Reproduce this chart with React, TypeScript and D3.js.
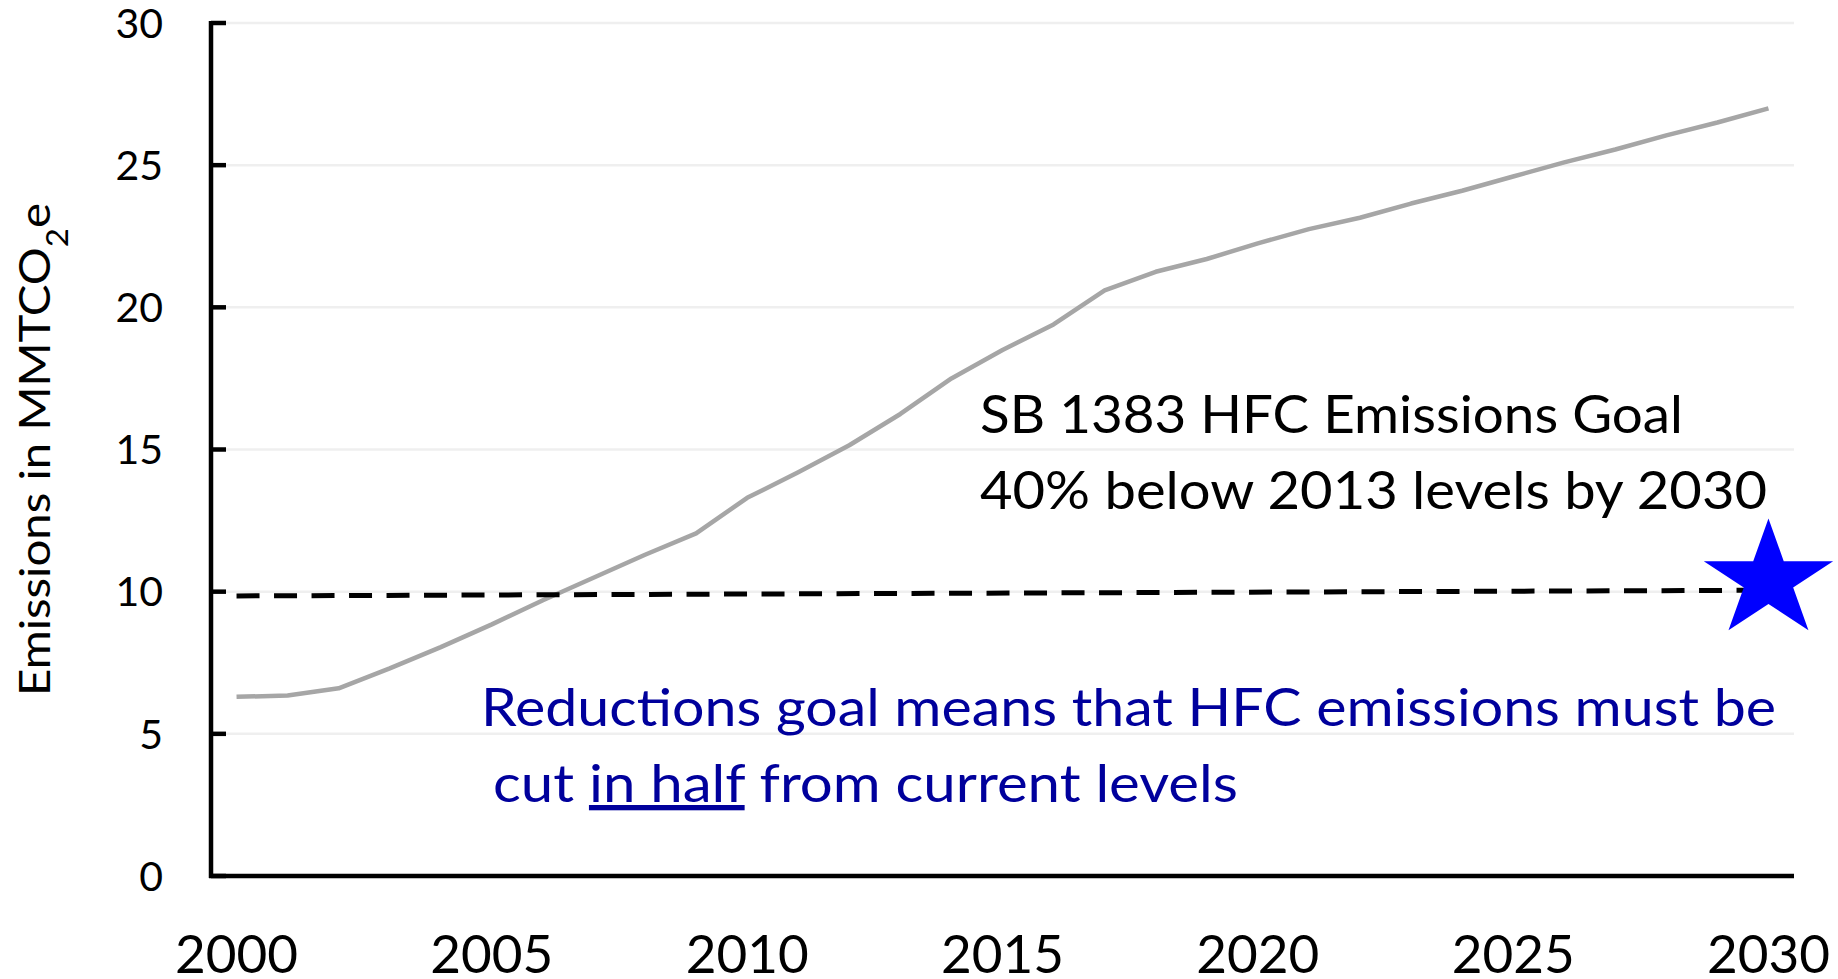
import React from "react";
import * as d3 from "d3";

const years = [
  2000, 2001, 2002, 2003, 2004, 2005, 2006, 2007, 2008, 2009, 2010,
  2011, 2012, 2013, 2014, 2015, 2016, 2017, 2018, 2019, 2020,
  2021, 2022, 2023, 2024, 2025, 2026, 2027, 2028, 2029, 2030,
];
const emissions = [
  6.3, 6.35, 6.6, 7.3, 8.05, 8.85, 9.7, 10.5, 11.3, 12.05, 13.3,
  14.2, 15.15, 16.25, 17.5, 18.5, 19.4, 20.6, 21.25, 21.7, 22.25,
  22.75, 23.15, 23.65, 24.1, 24.6, 25.1, 25.55, 26.05, 26.5, 27.0,
];
const goalYears = [2000, 2030];
const goalValues = [9.85, 10.05];
const starYear = 2030;
const starValue = 10.4;
const yTicks = [0, 5, 10, 15, 20, 25, 30];
const xTickLabels = [2000, 2005, 2010, 2015, 2020, 2025, 2030];

const W = 1838;
const H = 979;
const FONT = "Lato, 'Open Sans', sans-serif";

export default function App() {
  const left = 211;
  const right = 1794;
  const top = 23;
  const bottom = 876;

  const x = d3
    .scalePoint<number>()
    .domain(years)
    .range([left, right])
    .padding(0.5);
  const y = d3.scaleLinear().domain([0, 30]).range([bottom, top]);

  const line = d3
    .line<number>()
    .x((_, i) => x(years[i]) as number)
    .y((d) => y(d));
  const goalLine = d3
    .line<number>()
    .x((_, i) => x(goalYears[i]) as number)
    .y((d) => y(d));

  const starPath = d3.symbol(d3.symbolStar, 5191)() as string;

  return (
    <svg
      width={W}
      height={H}
      style={{ position: "absolute", left: 0, top: 0, background: "#fff" }}
      fontFamily={FONT}
    >
      <rect x={0} y={0} width={W} height={H} fill="#fff" />
      {/* gridlines */}
      {yTicks
        .filter((t) => t > 0)
        .map((t) => (
          <line
            key={"g" + t}
            x1={left}
            x2={right}
            y1={y(t)}
            y2={y(t)}
            stroke="#efefef"
            strokeWidth={2.5}
          />
        ))}
      {/* emissions line */}
      <path
        d={line(emissions) as string}
        fill="none"
        stroke="#a6a6a6"
        strokeWidth={4.5}
        strokeLinejoin="round"
      />
      {/* goal dashed line */}
      <path
        d={goalLine(goalValues) as string}
        fill="none"
        stroke="#000"
        strokeWidth={5}
        strokeDasharray="23 14.5"
      />
      {/* axes */}
      <line x1={left} x2={left} y1={top - 2} y2={bottom + 2} stroke="#000" strokeWidth={4.5} />
      <line x1={left - 2} x2={right} y1={bottom} y2={bottom} stroke="#000" strokeWidth={4.5} />
      {yTicks.map((t) => (
        <line
          key={"t" + t}
          x1={left}
          x2={left + 15}
          y1={y(t)}
          y2={y(t)}
          stroke="#000"
          strokeWidth={4.5}
        />
      ))}
      {yTicks.map((t) => (
        <text
          key={"yl" + t}
          x={163}
          y={y(t)}
          dy="0.36em"
          textAnchor="end"
          fontSize={41}
          fill="#000"
        >
          {t}
        </text>
      ))}
      {xTickLabels.map((t) => (
        <text
          key={"xl" + t}
          x={x(t) as number}
          y={973}
          textAnchor="middle"
          fontSize={53}
          fill="#000"
        >
          {t}
        </text>
      ))}
      {/* y axis title */}
      <text
        transform={`translate(50, ${(top + bottom) / 2}) rotate(-90)`}
        textAnchor="middle"
        fontSize={43}
        fill="#000"
        textLength={493}
        lengthAdjust="spacingAndGlyphs"
      >
        Emissions in MMTCO
        <tspan baselineShift="sub" fontSize={30}>
          2
        </tspan>
        e
      </text>
      {/* star */}
      <path
        d={starPath}
        transform={`translate(${x(starYear)}, ${y(starValue)}) scale(1, 0.91)`}
        fill="#0000ff"
      />
      {/* annotations */}
      <text
        x={980}
        y={433}
        fontSize={53}
        fill="#000"
        textLength={703}
        lengthAdjust="spacingAndGlyphs"
      >
        SB 1383 HFC Emissions Goal
      </text>
      <text
        x={980}
        y={509}
        fontSize={53}
        fill="#000"
        textLength={787}
        lengthAdjust="spacingAndGlyphs"
      >
        40% below 2013 levels by 2030
      </text>
      <text
        x={481}
        y={726}
        fontSize={53}
        fill="#00009c"
        textLength={1295}
        lengthAdjust="spacingAndGlyphs"
      >
        Reductions goal means that HFC emissions must be
      </text>
      <text
        x={493}
        y={802}
        fontSize={53}
        fill="#00009c"
        textLength={745}
        lengthAdjust="spacingAndGlyphs"
      >
        {"cut "}
        <tspan textDecoration="underline" style={{ textDecoration: "underline" }}>
          in half
        </tspan>
        {" from current levels"}
      </text>
    </svg>
  );
}
